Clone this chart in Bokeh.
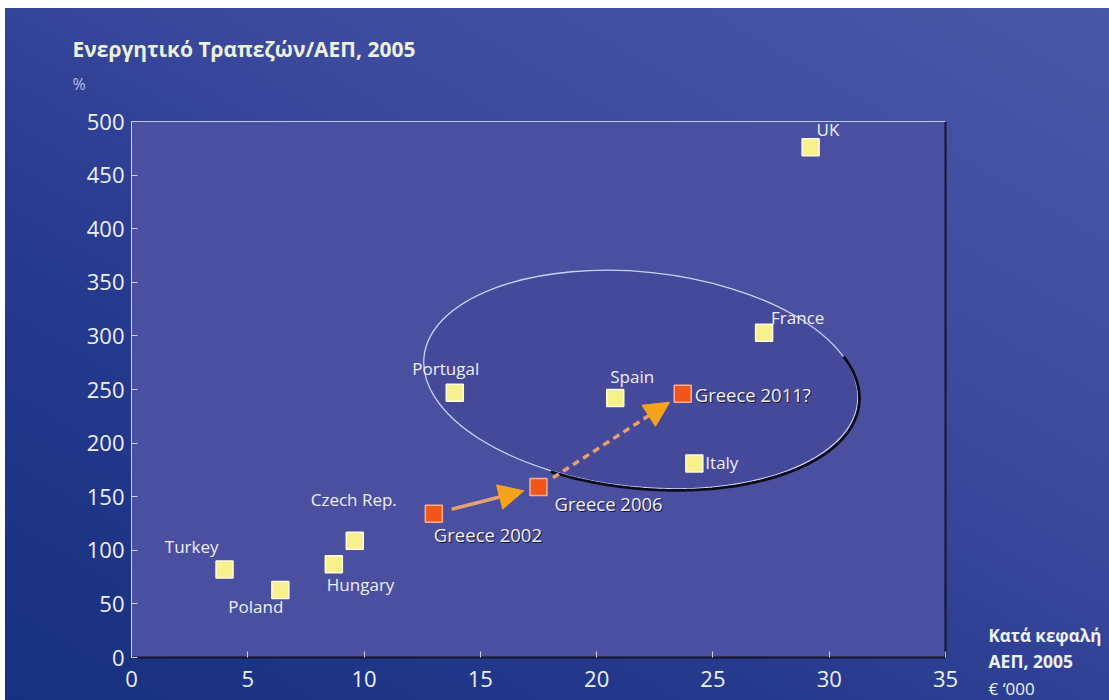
import numpy as np
from bokeh.plotting import figure
from bokeh.models import Label, Arrow, NormalHead, ColumnDataSource, LinearAxis, FixedTicker
from bokeh.embed import file_html
from bokeh.resources import INLINE
from bokeh.core.properties import value

# ---------------- data ----------------
countries = ["Turkey", "Poland", "Hungary", "Czech Rep.", "Portugal", "Spain", "Italy", "France", "UK"]
gdp_per_capita = [4.0, 6.4, 8.7, 9.6, 13.9, 20.8, 24.2, 27.2, 29.2]      # € '000, 2005
bank_assets_gdp = [82, 63, 87, 109, 247, 242, 181, 303, 476]            # %, 2005

greece_labels = ["Greece 2002", "Greece 2006", "Greece 2011?"]
greece_gdp_per_capita = [13.0, 17.5, 23.7]
greece_assets_gdp = [134, 159, 246]

x_ticks = [0, 5, 10, 15, 20, 25, 30, 35]
y_ticks = [0, 50, 100, 150, 200, 250, 300, 350, 400, 450, 500]

# ---------------- label layout (screen px) ----------------
country_dx = [-6, 3, -7, -1, -9, -5, 11, 7, 6]
country_dy = [-23, 17, 20, -41, -24, -22, -1, -15, -18]
country_align = ["right", "right", "left", "center", "center", "left", "left", "left", "left"]
greece_dx = [0, 16, 12]
greece_dy = [21, 16, 1]

FONT = "Open Sans"
W, H = 1109, 700
# pixel box of the plotting area inside the canvas
BOX_L, BOX_R, BOX_T, BOX_B = 131, 945, 121, 657
X0, X1 = x_ticks[0], x_ticks[-1]
Y0, Y1 = y_ticks[0], y_ticks[-1]
px_x = (BOX_R - BOX_L) / (X1 - X0)
px_y = (BOX_B - BOX_T) / (Y1 - Y0)
x_range = (X0 - BOX_L / px_x, X1 + (W - BOX_R) / px_x)
y_range = (Y0 - (H - BOX_B) / px_y, Y1 + BOX_T / px_y)

p = figure(width=W, height=H, x_range=x_range, y_range=y_range,
           output_backend="svg", toolbar_location=None,
           x_axis_location=None, y_axis_location=None,
           min_border=0)

p.styles = {
    "background": ("linear-gradient(to bottom, #ffffff 0px, #ffffff 8px, transparent 8px), "
                   "linear-gradient(to right, #ffffff 0px, #ffffff 5px, transparent 5px), "
                   "linear-gradient(30deg, #17307f 0%, #263a8e 35%, #3c4a9e 62%, #4a57a7 100%)")
}
p.border_fill_color = None
p.background_fill_color = None
p.outline_line_color = None
p.grid.visible = False

# plotting-area panel
p.quad(left=[X0], right=[X1], bottom=[Y0], top=[Y1], fill_color="#4a4fa0", line_color=None)
p.segment(x0=[X1], y0=[Y0], x1=[X1], y1=[Y1], line_color="#15152a", line_width=2)
p.segment(x0=[X0], y0=[Y1], x1=[X1], y1=[Y1], line_color="#c0c8f0", line_width=1)

xaxis = LinearAxis(fixed_location=0, ticker=FixedTicker(ticks=x_ticks), bounds=(X0, X1))
yaxis = LinearAxis(fixed_location=0, ticker=FixedTicker(ticks=y_ticks), bounds=(Y0, Y1))
for ax in (xaxis, yaxis):
    ax.major_tick_in = 6
    ax.major_tick_out = 0
    ax.minor_tick_line_color = None
    ax.major_tick_line_color = "#c8d0f8"
    ax.major_label_text_color = "#eef0fb"
    ax.major_label_text_font = FONT
    ax.major_label_text_font_size = "22px"
xaxis.axis_line_color = "#15152a"
xaxis.axis_line_width = 2
xaxis.major_label_standoff = 13
yaxis.axis_line_color = "#c8d0f8"
yaxis.axis_line_width = 1
yaxis.major_label_standoff = 7
p.add_layout(xaxis, "below")
p.add_layout(yaxis, "left")

# ---------------- highlight ellipse ----------------
ell_cx, ell_cy = 21.9, 259.3
ell_a, ell_b, ell_rot = 218.0, 107.5, np.deg2rad(6.0)   # screen px, clockwise rotation
p.ellipse(x=[ell_cx], y=[ell_cy], width=2 * ell_a, height=2 * ell_b,
          width_units="screen", height_units="screen", angle=-ell_rot,
          fill_color="#1a1f70", fill_alpha=0.10, line_color="#c8d4ff", line_width=1.3)
t = np.deg2rad(np.linspace(-25, 112, 120))
sx = ell_a * np.cos(t) * np.cos(ell_rot) - ell_b * np.sin(t) * np.sin(ell_rot) + 1.5
sy = ell_a * np.cos(t) * np.sin(ell_rot) + ell_b * np.sin(t) * np.cos(ell_rot) + 1.5
p.line(ell_cx + sx / px_x, ell_cy - sy / px_y, line_color="#0c0c18", line_width=2.8)

# ---------------- Greece trajectory arrows ----------------
start_frac = [0.17, 0.10]
end_frac = [0.86, 0.91]
dashes = ["solid", "7 5"]
for i in range(2):
    x0, y0 = greece_gdp_per_capita[i], greece_assets_gdp[i]
    x1, y1 = greece_gdp_per_capita[i + 1], greece_assets_gdp[i + 1]
    p.add_layout(Arrow(
        x_start=x0 + start_frac[i] * (x1 - x0), y_start=y0 + start_frac[i] * (y1 - y0),
        x_end=x0 + end_frac[i] * (x1 - x0), y_end=y0 + end_frac[i] * (y1 - y0),
        line_color="#e4a070", line_width=3.5, line_dash=dashes[i],
        end=NormalHead(size=25, fill_color="#f6a31c", line_color="#f6a31c")))

# ---------------- points ----------------
src = ColumnDataSource(dict(x=gdp_per_capita, y=bank_assets_gdp, name=countries,
                            dx=country_dx, dy=country_dy, align=country_align))
p.scatter("x", "y", source=src, marker="square", size=17,
          fill_color="#f7f08c", line_color="#fffbe0", line_width=1.5)
p.text("x", "y", text="name", source=src, x_offset="dx", y_offset="dy",
       text_align="align", text_baseline="middle", text_color="#eef0f8",
       text_font=value(FONT), text_font_size="17px")

gsrc = ColumnDataSource(dict(x=greece_gdp_per_capita, y=greece_assets_gdp, name=greece_labels,
                             dx=greece_dx, dy=greece_dy,
                             dx2=[d + 1 for d in greece_dx], dy2=[d + 1 for d in greece_dy]))
p.scatter("x", "y", source=gsrc, marker="square", size=17,
          fill_color="#f0561a", line_color="#f9b08a", line_width=1.5)
p.text("x", "y", text="name", source=gsrc, x_offset="dx2", y_offset="dy2",
       text_align="left", text_baseline="middle", text_color="#15153a",
       text_font=value(FONT), text_font_size="18.5px")
p.text("x", "y", text="name", source=gsrc, x_offset="dx", y_offset="dy",
       text_align="left", text_baseline="middle", text_color="#f2f2f2",
       text_font=value(FONT), text_font_size="18.5px")

# ---------------- titles (canvas units, y from top) ----------------
def add_label(text, px, py, size, bold=False, color="#eef2dc"):
    p.add_layout(Label(x=px, y=py, x_units="canvas", y_units="canvas",
                       text=text, text_font=FONT, text_font_size=size,
                       text_font_style="bold" if bold else "normal",
                       text_color=color, text_baseline="middle", text_align="left"))

add_label("Ενεργητικό Τραπεζών/ΑΕΠ, 2005", 72, 48, "21px", bold=True)
add_label("%", 72, 83, "16px", color="#b8c0e0")
add_label("Κατά κεφαλή", 988, 635, "17px", bold=True, color="#eef2f8")
add_label("ΑΕΠ, 2005", 988, 660, "17.5px", bold=True, color="#eef2f8")
add_label("€ ‘000", 988, 688, "17px", color="#eef2f8")

open("out.html", "w").write(file_html(p, INLINE))
